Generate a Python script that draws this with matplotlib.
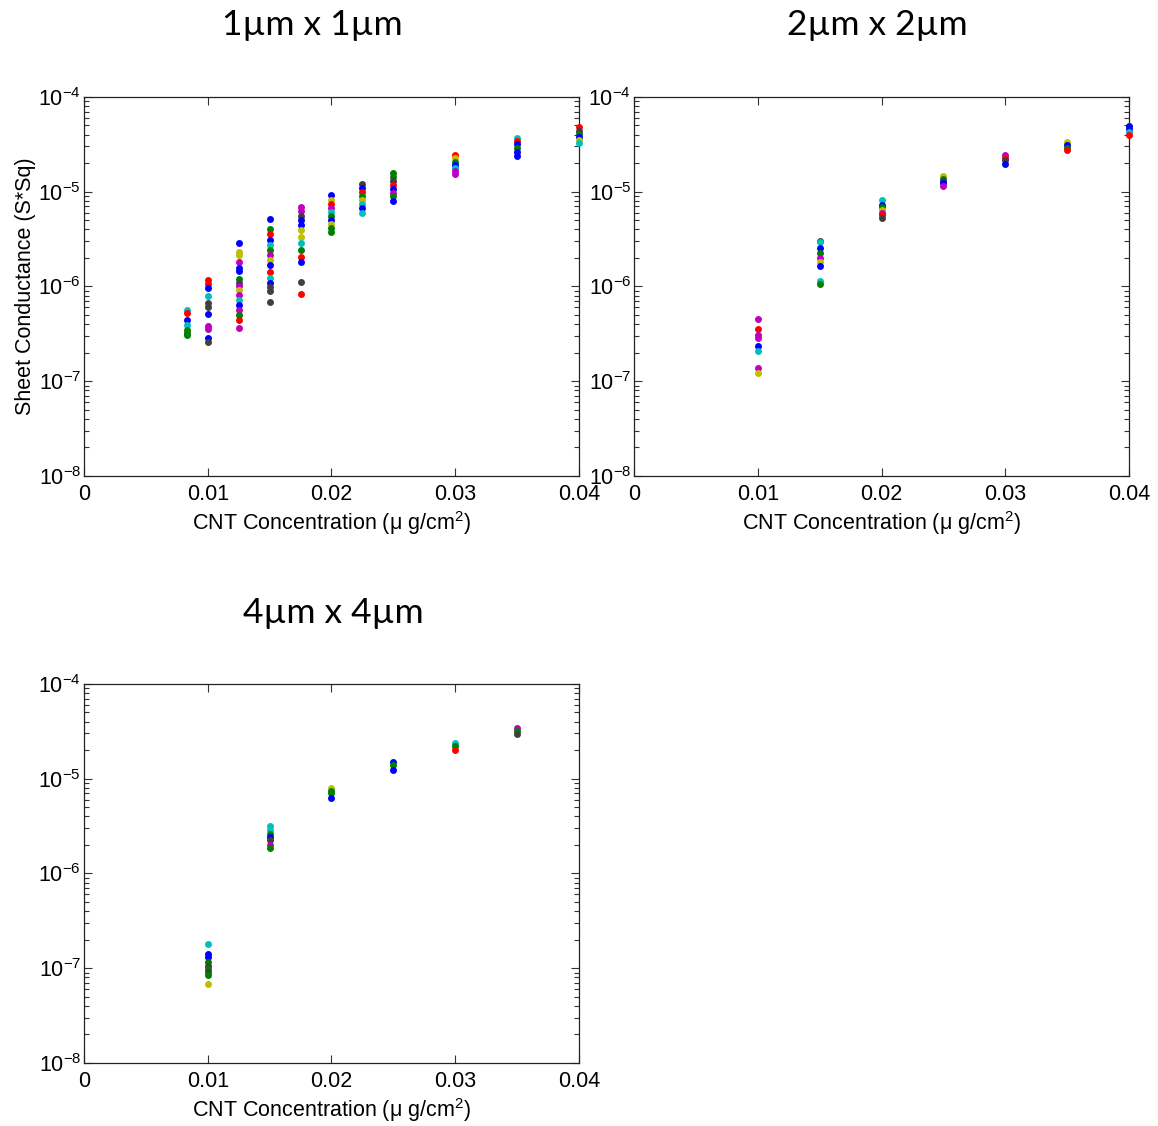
import matplotlib
matplotlib.use("Agg")
import matplotlib.pyplot as plt
from matplotlib.ticker import LogLocator, NullFormatter

plt.rcParams['font.family'] = ['Liberation Sans', 'DejaVu Sans']
plt.rcParams['mathtext.fontset'] = 'custom'
plt.rcParams['mathtext.rm'] = 'Liberation Sans'
plt.rcParams['mathtext.it'] = 'Liberation Sans:italic'
plt.rcParams['mathtext.bf'] = 'Liberation Sans:bold'

# MATLAB-ish colour order
COLORS = {'b': (0, 0, 1), 'g': (0, 0.5, 0), 'r': (1, 0, 0), 'c': (0, 0.75, 0.75),
          'm': (0.75, 0, 0.75), 'y': (0.75, 0.75, 0), 'k': (0.25, 0.25, 0.25)}

titles = ['1\u00b5m x 1\u00b5m', '2\u00b5m x 2\u00b5m', '4\u00b5m x 4\u00b5m']
xticks = [0, 0.01, 0.02, 0.03, 0.04]
xticklabels = ['0', '0.01', '0.02', '0.03', '0.04']
xlabel = 'CNT Concentration (\u03bc g/cm$^{2}$)'
ylabel = 'Sheet Conductance (S*Sq)'

# 1um x 1um
p1_x = [0.0083, 0.01, 0.0125, 0.015, 0.0175, 0.02, 0.0225, 0.025, 0.03, 0.035, 0.04]
p1_y = [
    [5.65e-7, 5.25e-7, 4.43e-7, 3.92e-7, 3.47e-7, 3.23e-7, 3.08e-7],
    [1.17e-6, 1.06e-6, 9.64e-7, 7.94e-7, 6.70e-7, 6.08e-7, 5.13e-7, 3.83e-7, 3.56e-7, 2.86e-7, 2.59e-7],
    [2.88e-6, 2.31e-6, 2.15e-6, 1.81e-6, 1.57e-6, 1.45e-6, 1.20e-6, 1.09e-6, 1.01e-6, 9.18e-7,
     8.13e-7, 7.20e-7, 6.38e-7, 5.65e-7, 5.00e-7, 4.43e-7, 3.65e-7],
    [5.15e-6, 4.04e-6, 3.58e-6, 3.10e-6, 2.74e-6, 2.43e-6, 2.15e-6, 1.90e-6, 1.69e-6, 1.42e-6,
     1.23e-6, 1.09e-6, 9.88e-7, 8.97e-7, 6.86e-7],
    [6.90e-6, 6.2e-6, 5.55e-6, 5.0e-6, 4.46e-6, 3.9e-6, 3.33e-6, 2.9e-6, 2.43e-6, 2.05e-6,
     1.81e-6, 1.11e-6, 8.34e-7],
    [9.25e-6, 8.19e-6, 7.45e-6, 6.73e-6, 6.09e-6, 5.55e-6, 5.04e-6, 4.58e-6, 4.16e-6, 3.76e-6],
    [1.21e-5, 1.10e-5, 9.93e-6, 9.0e-6, 8.19e-6, 7.45e-6, 6.73e-6, 5.97e-6],
    [1.58e-5, 1.43e-5, 1.30e-5, 1.18e-5, 1.07e-5, 9.7e-6, 9.0e-6, 7.97e-6],
    [2.44e-5, 2.27e-5, 2.06e-5, 1.91e-5, 1.78e-5, 1.66e-5, 1.54e-5],
    [3.69e-5, 3.43e-5, 3.19e-5, 2.90e-5, 2.63e-5, 2.38e-5],
    [4.82e-5, 4.38e-5, 4.07e-5, 3.79e-5, 3.52e-5, 3.27e-5],
]
p1_c = ["crbcggg", "rrbckkbmmbk", "byymbbgkmymcbmgrm", "bgrbcgmybrcbkkk", "mmkbbyycgrbkr",
        "byrmcgbygg", "kbrgycbc", "ggkrbmgb", "rygbcmm", "crbgbb", "rkgbyc"]

# 2um x 2um
p2_x = [0.01, 0.015, 0.02, 0.025, 0.03, 0.035, 0.04]
p2_y = [
    [4.57e-7, 3.56e-7, 3.08e-7, 2.86e-7, 2.35e-7, 2.08e-7, 1.38e-7, 1.22e-7],
    [3.04e-6, 2.95e-6, 2.55e-6, 2.26e-6, 2.00e-6, 1.81e-6, 1.65e-6, 1.14e-6, 1.06e-6],
    [8.19e-6, 7.29e-6, 6.94e-6, 6.45e-6, 5.97e-6, 5.69e-6, 5.28e-6],
    [1.47e-5, 1.37e-5, 1.30e-5, 1.24e-5, 1.15e-5],
    [2.44e-5, 2.27e-5, 2.16e-5, 1.96e-5],
    [3.37e-5, 3.11e-5, 2.90e-5, 2.76e-5],
    [4.94e-5, 4.59e-5, 4.27e-5, 3.97e-5],
]
p2_c = ["mrmmbcmy", "kcbgmybcg", "cbgymrk", "ygkbm", "mrkb", "ybgr", "bbcr"]

# 4um x 4um
p3_x = [0.01, 0.015, 0.02, 0.025, 0.03, 0.035]
p3_y = [
    [1.79e-7, 1.40e-7, 1.31e-7, 1.16e-7, 1.06e-7, 9.82e-8, 9.13e-8, 8.49e-8, 6.77e-8],
    [3.17e-6, 2.87e-6, 2.61e-6, 2.43e-6, 2.26e-6, 2.00e-6, 1.86e-6],
    [8.05e-6, 7.43e-6, 7.08e-6, 6.31e-6],
    [1.50e-5, 1.40e-5, 1.24e-5],
    [2.37e-5, 2.22e-5, 2.01e-5],
    [3.43e-5, 3.19e-5, 2.97e-5],
]
p3_c = ["cbbgkgkgy", "ccgbkmg", "yggb", "bgb", "cgr", "mgk"]


def draw_panel(ax, xs, ys, cs):
    for x, col_y, col_c in zip(xs, ys, cs):
        for y, c in zip(col_y, col_c):
            ax.plot([x], [y], 'o', color=COLORS[c], markersize=5, markeredgewidth=0,
                    clip_on=False, zorder=3)
    ax.set_yscale('log')
    ax.set_ylim(1e-8, 1e-4)
    ax.set_xlim(0, 0.04)
    ax.set_xticks(xticks)
    ax.set_xticklabels(xticklabels)
    ax.yaxis.set_major_locator(LogLocator(base=10, numticks=10))
    ax.yaxis.set_minor_locator(LogLocator(base=10, subs=range(2, 10), numticks=20))
    ax.yaxis.set_minor_formatter(NullFormatter())
    ax.tick_params(which='both', direction='in', top=True, right=True, labelsize=15.5,
                   color='#333333')
    ax.tick_params(which='major', length=6, width=0.8)
    ax.tick_params(which='minor', length=3.5, width=0.8)
    ax.tick_params(axis='x', pad=6)
    ax.tick_params(axis='y', pad=2)
    for s in ax.spines.values():
        s.set_color('#222222')
        s.set_linewidth(0.9)
    ax.set_xlabel(xlabel, fontsize=15.5, labelpad=3)


fig = plt.figure(figsize=(11.58, 11.26), dpi=100)
ax1 = fig.add_axes([0.0725, 0.5773, 0.4275, 0.3366])
ax2 = fig.add_axes([0.5475, 0.5773, 0.4275, 0.3366])
ax3 = fig.add_axes([0.0725, 0.0560, 0.4275, 0.3366])

draw_panel(ax1, p1_x, p1_y, p1_c)
draw_panel(ax2, p2_x, p2_y, p2_c)
draw_panel(ax3, p3_x, p3_y, p3_c)
ax1.set_ylabel(ylabel, fontsize=15.5, labelpad=2)

fig.text(0.2694, 0.9778, titles[0], fontsize=25.5, family=['Lato', 'DejaVu Sans'],
         ha='center', va='center')
fig.text(0.7573, 0.9778, titles[1], fontsize=25.5, family=['Lato', 'DejaVu Sans'],
         ha='center', va='center')
fig.text(0.2876, 0.4556, titles[2], fontsize=25.5, family=['Lato', 'DejaVu Sans'],
         ha='center', va='center')

fig.savefig('out.png', dpi=100)
